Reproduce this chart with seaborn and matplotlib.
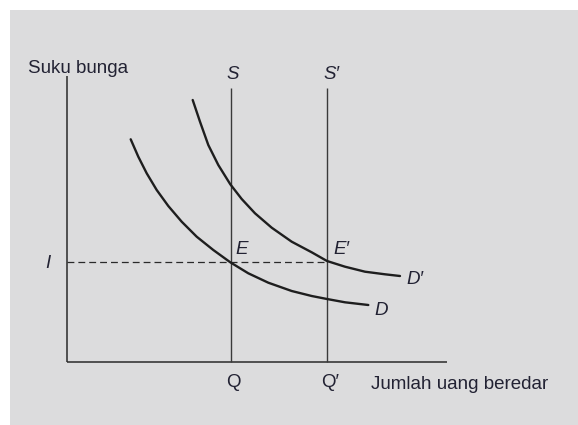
import matplotlib
matplotlib.use("Agg")
import matplotlib.pyplot as plt
import seaborn as sns
from matplotlib.patches import Rectangle

# ---- data (in pixel-like diagram units) ----
D_x = [130.7, 138.3, 146.7, 156.7, 168.3, 181.7, 196.7, 213.3, 230.3,
       248.3, 268.3, 291.7, 311.7, 327.0, 345.0, 368.3]
D_y = [139.3, 156.7, 173.3, 190.0, 206.0, 221.7, 236.7, 250.0, 262.3,
       273.3, 282.7, 291.0, 296.0, 299.0, 302.3, 305.0]
Dp_x = [192.7, 200.0, 208.3, 218.3, 230.3, 241.7, 255.0, 271.7, 291.7,
        311.7, 327.0, 345.0, 365.0, 385.0, 400.0]
Dp_y = [100.0, 121.7, 145.0, 165.0, 184.3, 199.0, 213.3, 227.7, 241.7,
        252.3, 261.0, 266.7, 271.7, 274.3, 276.0]
S_x = [231, 327]           # supply lines S, S'
eq_y = 262                 # interest rate I
axis_origin = (67, 362)
axis_top = 76
axis_right = 447
s_top = 88

sns.set_style("white")
plt.rcParams['font.family'] = ['Liberation Sans', 'DejaVu Sans']

fig = plt.figure(figsize=(5.78, 4.25), dpi=100)
ax = fig.add_axes([0, 0, 1, 1])
ax.set_xlim(0, 578)
ax.set_ylim(425, 0)
ax.axis("off")

ax.add_patch(Rectangle((10, 10), 568, 415, facecolor="#dcdcdd", edgecolor="none", zorder=0))

ink = "#2a2a2a"
# axes
ax.plot([axis_origin[0], axis_origin[0]], [axis_top, axis_origin[1]], color=ink, lw=1.1, solid_capstyle="butt")
ax.plot([axis_origin[0], axis_right], [axis_origin[1], axis_origin[1]], color=ink, lw=1.1, solid_capstyle="butt")
# supply lines
for sx in S_x:
    ax.plot([sx, sx], [s_top, axis_origin[1]], color="#3a3a3a", lw=1.0, solid_capstyle="butt")
# dashed interest line
ax.plot([axis_origin[0], S_x[1]], [eq_y, eq_y], color=ink, lw=0.9, dashes=(5.5, 3.2))

# demand curves
sns.lineplot(x=D_x, y=D_y, ax=ax, color="#1e1e1e", lw=1.7, sort=False, estimator=None)
sns.lineplot(x=Dp_x, y=Dp_y, ax=ax, color="#1e1e1e", lw=1.7, sort=False, estimator=None)
for ln in ax.lines[-2:]:
    ln.set_solid_joinstyle("round")

tc = "#222233"
fs = 13.5
ax.text(28, 73, "Suku bunga", fontsize=fs, color=tc, va="baseline", ha="left")
ax.text(233, 79, "S", fontsize=fs, color=tc, va="baseline", ha="center", style="italic")
ax.text(331, 79, "S\u2032", fontsize=fs, color=tc, va="baseline", ha="center", style="italic")
ax.text(48, 268, "I", fontsize=fs, color=tc, va="baseline", ha="center", style="italic")
ax.text(235, 254, "E", fontsize=fs, color=tc, va="baseline", ha="left", style="italic")
ax.text(333, 254, "E\u2032", fontsize=fs, color=tc, va="baseline", ha="left", style="italic")
ax.text(406, 284, "D\u2032", fontsize=fs, color=tc, va="baseline", ha="left", style="italic")
ax.text(374, 315, "D", fontsize=fs, color=tc, va="baseline", ha="left", style="italic")
ax.text(233, 387, "Q", fontsize=fs, color=tc, va="baseline", ha="center")
ax.text(330, 387, "Q\u2032", fontsize=fs, color=tc, va="baseline", ha="center")
ax.text(371, 389, "Jumlah uang beredar", fontsize=fs, color=tc, va="baseline", ha="left")

fig.savefig("out.png", dpi=100, facecolor="white")
